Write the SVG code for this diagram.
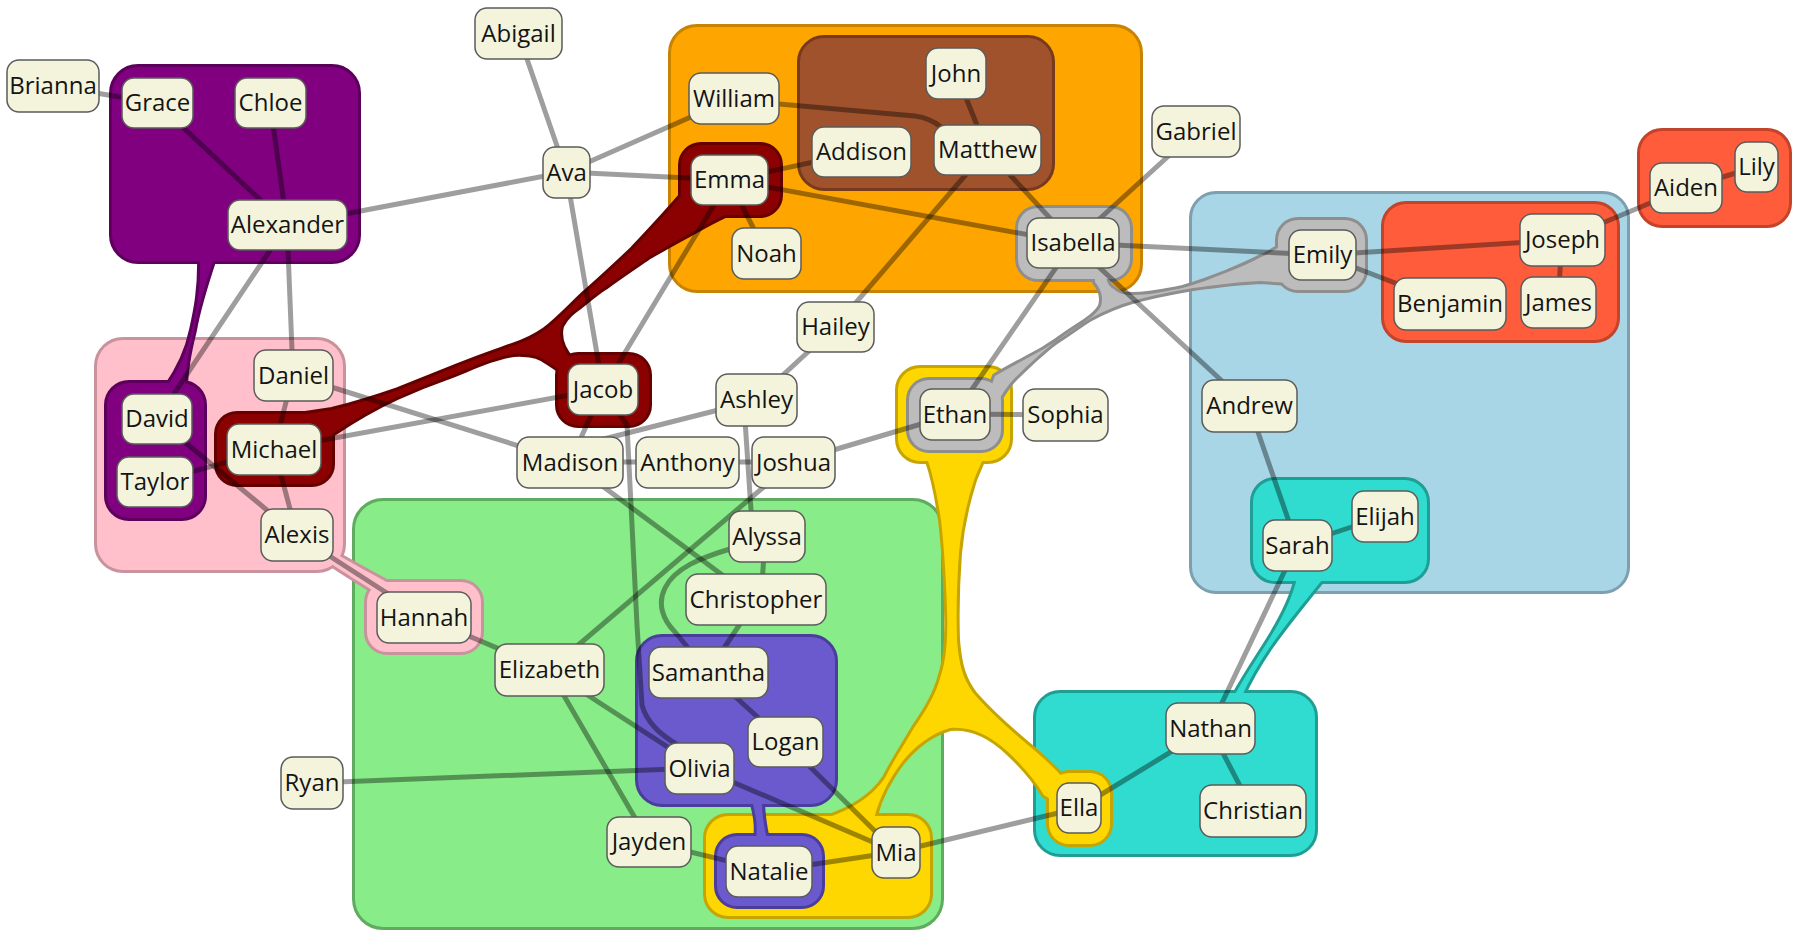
<svg xmlns="http://www.w3.org/2000/svg" xmlns:xlink="http://www.w3.org/1999/xlink" width="1796" height="937" viewBox="0 0 1796 937">
<style>
.n rect{fill:#f4f4dc;stroke:#5b5b5b;stroke-width:1.5}
.n text{font-family:"Open Sans","Noto Sans","Liberation Sans",sans-serif;font-size:24px;fill:#141414;text-anchor:middle}
.e line,.e path{stroke:#000;stroke-opacity:0.38;stroke-width:5;fill:none;stroke-linecap:round;stroke-linejoin:round}
.sk{stroke-width:6;stroke-linejoin:round}
</style>
<defs>
<g id="sBlue"><rect x="1192" y="194" width="435" height="397" rx="24"/></g>
<g id="sGreen"><rect x="355" y="501" width="586" height="426" rx="28"/></g>
<g id="sOrange"><rect x="671" y="27" width="469" height="263" rx="26"/></g>
<g id="sPink">
<rect x="97" y="340" width="246" height="230" rx="26"/>
<rect x="367" y="582" width="114" height="70" rx="20"/>
<path d="M 330,550 L 338,555 C 355,565 372,574 392,585 L 375,592 C 360,582 346,574 330,563 Z"/>
</g>
<g id="sTomato">
<rect x="1384" y="204" width="233" height="136" rx="22"/>
<rect x="1640" y="131" width="149" height="94" rx="22"/>
</g>
<g id="sBrown"><rect x="800" y="38" width="252" height="150" rx="24"/></g>
<g id="sTeal">
<rect x="1253" y="480" width="174" height="101" rx="22"/>
<rect x="1036" y="693" width="279" height="161" rx="24"/>
<path d="M 1297,578 C 1292,600 1280,622 1268,641 C 1258,657 1245,676 1233,698 L 1241,698 C 1249,680 1259,663 1270,647 C 1284,627 1301,606 1322,580 Z"/>
</g>
<g id="sYellow">
<rect x="898" y="368" width="112" height="93" rx="22"/>
<rect x="706" y="816" width="224" height="100" rx="22"/>
<rect x="1049" y="773" width="61" height="71" rx="20"/>
<path d="M 935,455 L 928,461 C 933,475 938,500 941,520 C 944,545 946,580 947,610 C 948,640 946,660 941,675 C 936,695 925,712 914,728 C 904,745 893,762 885,778 C 870,800 845,812 826,818 L 826,830 L 872,830 C 874,815 880,795 893,775 C 905,755 925,735 950,728 C 970,726 990,735 1008,752 C 1022,765 1035,780 1044,795 L 1052,800 L 1065,780 C 1055,768 1042,757 1028,745 C 1010,730 990,712 975,695 C 963,680 959,665 957,640 C 956,610 957,580 959,553 C 961,530 966,505 974,480 C 977,472 980,466 982,461 Z"/>
</g>
<g id="sSlate">
<rect x="638" y="637" width="197" height="167" rx="24"/>
<rect x="717" y="836" width="105" height="70" rx="20"/>
<path d="M 752,800 C 756,815 758,826 756,840 L 767,840 C 764,826 762,815 762,800 Z"/>
</g>
<g id="sPurple">
<rect x="112" y="67" width="246" height="194" rx="26"/>
<rect x="107" y="383" width="97" height="135" rx="22"/>
<path d="M 200,255 C 201,290 196,312 192,330 C 188,350 180,368 166,388 L 185,388 C 185,368 189,350 194,330 C 197,312 205,285 215,255 Z"/>
</g>
<g id="sRed">
<rect x="681" y="145" width="99" height="70" rx="20"/>
<rect x="558" y="355" width="91" height="70" rx="20"/>
<rect x="217" y="414" width="115" height="70" rx="20"/>
<path d="M 683,194 C 665,215 648,233 632,250 C 615,266 600,280 585,293 C 570,307 558,320 545,330 C 535,337 525,342 512,346 C 490,354 470,361 458,366 C 438,374 418,382 398,390 C 375,398 352,405 332,410 L 292,416 L 300,440 L 332,434 C 347,424 375,407 397,397 C 415,389 430,383 447,377 C 465,370 478,364 490,360 C 505,355 515,353 523,354 C 533,354 540,356 548,362 L 560,370 L 572,360 C 563,350 558,338 561,326 C 566,316 573,311 580,306 C 590,298 597,292 605,287 C 620,276 635,266 648,257 C 665,247 678,240 689,234 C 700,228 712,221 725,215 L 760,200 Z"/>
</g>
<g id="sGray">
<rect x="1018" y="208" width="112" height="71" rx="20"/>
<rect x="1278" y="220" width="87" height="70" rx="20"/>
<rect x="909" y="380" width="92" height="70" rx="20"/>
<path d="M 1095,270 L 1095,282 C 1100,288 1104,296 1101,306 C 1097,314 1090,318 1083,323 C 1070,332 1057,341 1044,349 C 1030,357 1012,366 995,376 L 990,390 L 1000,398 C 1005,390 1010,382 1018,375 C 1028,365 1040,354 1051,345 C 1064,335 1078,326 1091,318 C 1104,311 1118,305 1132,301 C 1150,296 1170,292 1193,288 C 1215,285 1240,282 1260,281 L 1290,283 L 1290,248 L 1278,248 C 1272,251 1267,255 1261,257 C 1250,263 1240,267 1228,272 C 1210,279 1195,285 1178,289 C 1162,292 1148,295 1133,295 C 1124,295 1118,293 1115,290 C 1110,287 1107,284 1106,276 Z"/>
</g>
</defs>
<rect x="0" y="0" width="1796" height="937" fill="#ffffff"/>
<g id="groups">
<g id="grp-blue"><use xlink:href="#sBlue" class="sk" fill="#7d9fae" stroke="#7d9fae"/><use xlink:href="#sBlue" fill="#a8d6e6"/></g>
<g id="grp-green"><use xlink:href="#sGreen" class="sk" fill="#5fab5f" stroke="#5fab5f"/><use xlink:href="#sGreen" fill="#88ec88"/></g>
<g id="grp-orange"><use xlink:href="#sOrange" class="sk" fill="#c88300" stroke="#c88300"/><use xlink:href="#sOrange" fill="#ffa500"/></g>
<g id="grp-pink"><use xlink:href="#sPink" class="sk" fill="#c9939d" stroke="#c9939d"/><use xlink:href="#sPink" fill="#ffc0cb"/></g>
<g id="grp-tomato"><use xlink:href="#sTomato" class="sk" fill="#c4432b" stroke="#c4432b"/><use xlink:href="#sTomato" fill="#ff5c3c"/></g>
<g id="grp-brown"><use xlink:href="#sBrown" class="sk" fill="#783a1c" stroke="#783a1c"/><use xlink:href="#sBrown" fill="#a0522d"/></g>
<g id="grp-teal"><use xlink:href="#sTeal" class="sk" fill="#1f9e94" stroke="#1f9e94"/><use xlink:href="#sTeal" fill="#30dccf"/></g>
<g id="grp-yellow"><use xlink:href="#sYellow" class="sk" fill="#c6a500" stroke="#c6a500"/><use xlink:href="#sYellow" fill="#ffd700"/></g>
<g id="grp-slate"><use xlink:href="#sSlate" class="sk" fill="#4a3d9e" stroke="#4a3d9e"/><use xlink:href="#sSlate" fill="#6a5acd"/></g>
<g id="grp-purple"><use xlink:href="#sPurple" class="sk" fill="#5c005c" stroke="#5c005c"/><use xlink:href="#sPurple" fill="#800080"/></g>
<g id="grp-red"><use xlink:href="#sRed" class="sk" fill="#640000" stroke="#640000"/><use xlink:href="#sRed" fill="#8b0000"/></g>
<g id="grp-gray"><use xlink:href="#sGray" class="sk" fill="#8e8e8e" stroke="#8e8e8e"/><use xlink:href="#sGray" fill="#bcbcbc"/></g>
</g>
<g id="connectors" class="e">
<line x1="53" y1="86" x2="157" y2="103"/>
<line x1="157" y1="103" x2="287" y2="225"/>
<line x1="270" y1="103" x2="287" y2="225"/>
<line x1="287" y1="225" x2="566" y2="172"/>
<line x1="287" y1="225" x2="157" y2="419"/>
<line x1="287" y1="225" x2="293" y2="375"/>
<line x1="518" y1="33" x2="566" y2="172"/>
<line x1="566" y1="172" x2="734" y2="98"/>
<line x1="566" y1="172" x2="729" y2="180"/>
<line x1="566" y1="172" x2="603" y2="389"/>
<line x1="729" y1="180" x2="861" y2="152"/>
<line x1="729" y1="180" x2="766" y2="253"/>
<line x1="729" y1="180" x2="1073" y2="243"/>
<line x1="729" y1="180" x2="603" y2="389"/>
<path d="M 734,98 L 779,104 L 915,116 Q 930,118 941,127 L 987,150"/>
<line x1="956" y1="73" x2="987" y2="150"/>
<line x1="987" y1="150" x2="1073" y2="243"/>
<line x1="987" y1="150" x2="835" y2="327"/>
<line x1="1196" y1="131" x2="1073" y2="243"/>
<line x1="1073" y1="243" x2="1322" y2="255"/>
<line x1="1073" y1="243" x2="955" y2="414"/>
<line x1="1073" y1="243" x2="1249" y2="406"/>
<line x1="1322" y1="255" x2="1562" y2="240"/>
<line x1="1322" y1="255" x2="1450" y2="304"/>
<line x1="1562" y1="240" x2="1558" y2="302"/>
<line x1="1562" y1="240" x2="1686" y2="188"/>
<line x1="1686" y1="188" x2="1756" y2="167"/>
<line x1="1249" y1="406" x2="1297" y2="545"/>
<line x1="1297" y1="545" x2="1385" y2="516"/>
<line x1="1297" y1="545" x2="1210" y2="728"/>
<line x1="1210" y1="728" x2="1079" y2="808"/>
<line x1="1210" y1="728" x2="1253" y2="811"/>
<line x1="1079" y1="808" x2="896" y2="852"/>
<line x1="896" y1="852" x2="769" y2="871"/>
<line x1="896" y1="852" x2="700" y2="768"/>
<line x1="896" y1="852" x2="785" y2="742"/>
<line x1="708" y1="672" x2="785" y2="742"/>
<line x1="769" y1="871" x2="649" y2="842"/>
<line x1="700" y1="768" x2="312" y2="783"/>
<line x1="756" y1="600" x2="708" y2="672"/>
<path d="M 767,537 L 730,549 C 700,558 675,568 665,588 C 657,604 663,620 675,632 L 708,672"/>
<line x1="744" y1="405" x2="752" y2="525"/>
<line x1="765" y1="540" x2="761" y2="598"/>
<line x1="835" y1="327" x2="756" y2="400"/>
<line x1="750" y1="402" x2="592" y2="442"/>
<line x1="793" y1="462" x2="955" y2="414"/>
<line x1="955" y1="414" x2="1065" y2="415"/>
<line x1="570" y1="462" x2="687" y2="462"/>
<line x1="687" y1="462" x2="793" y2="462"/>
<line x1="570" y1="462" x2="756" y2="600"/>
<line x1="549" y1="670" x2="793" y2="462"/>
<line x1="549" y1="670" x2="700" y2="768"/>
<line x1="549" y1="670" x2="649" y2="842"/>
<line x1="424" y1="617" x2="549" y2="670"/>
<line x1="297" y1="535" x2="424" y2="617"/>
<line x1="293" y1="375" x2="274" y2="449"/>
<line x1="293" y1="375" x2="570" y2="462"/>
<line x1="274" y1="449" x2="297" y2="535"/>
<line x1="157" y1="419" x2="297" y2="535"/>
<line x1="155" y1="482" x2="274" y2="449"/>
<line x1="274" y1="449" x2="603" y2="389"/>
<line x1="603" y1="389" x2="570" y2="462"/>
<path d="M 603,390 L 627,425 L 637,625 L 642,705 Q 648,728 678,745 L 700,768"/>
</g>
<g id="nodes">
<g id="Brianna" class="n"><rect x="7" y="60" width="92" height="52" rx="12"/><text x="53" y="94">Brianna</text></g>
<g id="Grace" class="n"><rect x="122" y="78" width="71" height="50" rx="12"/><text x="157.5" y="111">Grace</text></g>
<g id="Chloe" class="n"><rect x="235" y="78" width="71" height="50" rx="12"/><text x="270.5" y="111">Chloe</text></g>
<g id="Alexander" class="n"><rect x="228" y="200" width="119" height="50" rx="12"/><text x="287.5" y="233">Alexander</text></g>
<g id="Abigail" class="n"><rect x="475" y="8" width="87" height="51" rx="12"/><text x="518.5" y="42">Abigail</text></g>
<g id="Ava" class="n"><rect x="543" y="147" width="47" height="51" rx="12"/><text x="566.5" y="181">Ava</text></g>
<g id="William" class="n"><rect x="689" y="73" width="90" height="51" rx="12"/><text x="734" y="107">William</text></g>
<g id="John" class="n"><rect x="926" y="48" width="60" height="51" rx="12"/><text x="956" y="82">John</text></g>
<g id="Addison" class="n"><rect x="812" y="127" width="99" height="50" rx="12"/><text x="861.5" y="160">Addison</text></g>
<g id="Matthew" class="n"><rect x="934" y="125" width="107" height="50" rx="12"/><text x="987.5" y="158">Matthew</text></g>
<g id="Emma" class="n"><rect x="691" y="155" width="77" height="50" rx="12"/><text x="729.5" y="188">Emma</text></g>
<g id="Noah" class="n"><rect x="732" y="228" width="69" height="51" rx="12"/><text x="766.5" y="262">Noah</text></g>
<g id="Isabella" class="n"><rect x="1027" y="218" width="92" height="50" rx="12"/><text x="1073" y="251">Isabella</text></g>
<g id="Gabriel" class="n"><rect x="1152" y="106" width="88" height="51" rx="12"/><text x="1196" y="140">Gabriel</text></g>
<g id="Emily" class="n"><rect x="1289" y="230" width="67" height="50" rx="12"/><text x="1322.5" y="263">Emily</text></g>
<g id="Joseph" class="n"><rect x="1520" y="214" width="85" height="52" rx="12"/><text x="1562.5" y="248">Joseph</text></g>
<g id="Benjamin" class="n"><rect x="1394" y="278" width="112" height="52" rx="12"/><text x="1450" y="312">Benjamin</text></g>
<g id="James" class="n"><rect x="1521" y="277" width="75" height="51" rx="12"/><text x="1558.5" y="311">James</text></g>
<g id="Aiden" class="n"><rect x="1650" y="163" width="72" height="50" rx="12"/><text x="1686" y="196">Aiden</text></g>
<g id="Lily" class="n"><rect x="1735" y="142" width="43" height="50" rx="12"/><text x="1756.5" y="175">Lily</text></g>
<g id="Hailey" class="n"><rect x="797" y="302" width="77" height="50" rx="12"/><text x="835.5" y="335">Hailey</text></g>
<g id="Jacob" class="n"><rect x="568" y="364" width="70" height="51" rx="12"/><text x="603" y="398">Jacob</text></g>
<g id="Daniel" class="n"><rect x="254" y="350" width="79" height="51" rx="12"/><text x="293.5" y="384">Daniel</text></g>
<g id="David" class="n"><rect x="122" y="394" width="70" height="50" rx="12"/><text x="157" y="427">David</text></g>
<g id="Taylor" class="n"><rect x="117" y="457" width="76" height="50" rx="12"/><text x="155" y="490">Taylor</text></g>
<g id="Michael" class="n"><rect x="227" y="424" width="94" height="51" rx="12"/><text x="274" y="458">Michael</text></g>
<g id="Alexis" class="n"><rect x="261" y="509" width="72" height="52" rx="12"/><text x="297" y="543">Alexis</text></g>
<g id="Madison" class="n"><rect x="517" y="437" width="106" height="51" rx="12"/><text x="570" y="471">Madison</text></g>
<g id="Anthony" class="n"><rect x="636" y="437" width="103" height="51" rx="12"/><text x="687.5" y="471">Anthony</text></g>
<g id="Joshua" class="n"><rect x="752" y="437" width="83" height="51" rx="12"/><text x="793.5" y="471">Joshua</text></g>
<g id="Ashley" class="n"><rect x="716" y="374" width="81" height="52" rx="12"/><text x="756.5" y="408">Ashley</text></g>
<g id="Ethan" class="n"><rect x="920" y="389" width="70" height="51" rx="12"/><text x="955" y="423">Ethan</text></g>
<g id="Sophia" class="n"><rect x="1023" y="389" width="85" height="52" rx="12"/><text x="1065.5" y="423">Sophia</text></g>
<g id="Andrew" class="n"><rect x="1202" y="380" width="95" height="52" rx="12"/><text x="1249.5" y="414">Andrew</text></g>
<g id="Sarah" class="n"><rect x="1263" y="520" width="69" height="51" rx="12"/><text x="1297.5" y="554">Sarah</text></g>
<g id="Elijah" class="n"><rect x="1352" y="491" width="66" height="51" rx="12"/><text x="1385" y="525">Elijah</text></g>
<g id="Alyssa" class="n"><rect x="729" y="511" width="76" height="51" rx="12"/><text x="767" y="545">Alyssa</text></g>
<g id="Christopher" class="n"><rect x="686" y="574" width="140" height="51" rx="12"/><text x="756" y="608">Christopher</text></g>
<g id="Hannah" class="n"><rect x="377" y="592" width="94" height="51" rx="12"/><text x="424" y="626">Hannah</text></g>
<g id="Elizabeth" class="n"><rect x="495" y="644" width="109" height="52" rx="12"/><text x="549.5" y="678">Elizabeth</text></g>
<g id="Samantha" class="n"><rect x="649" y="647" width="119" height="51" rx="12"/><text x="708.5" y="681">Samantha</text></g>
<g id="Logan" class="n"><rect x="748" y="717" width="75" height="50" rx="12"/><text x="785.5" y="750">Logan</text></g>
<g id="Olivia" class="n"><rect x="665" y="743" width="69" height="51" rx="12"/><text x="699.5" y="777">Olivia</text></g>
<g id="Ryan" class="n"><rect x="281" y="757" width="62" height="52" rx="12"/><text x="312" y="791">Ryan</text></g>
<g id="Jayden" class="n"><rect x="607" y="817" width="84" height="50" rx="12"/><text x="649" y="850">Jayden</text></g>
<g id="Natalie" class="n"><rect x="726" y="846" width="86" height="51" rx="12"/><text x="769" y="880">Natalie</text></g>
<g id="Mia" class="n"><rect x="872" y="827" width="48" height="51" rx="12"/><text x="896" y="861">Mia</text></g>
<g id="Ella" class="n"><rect x="1057" y="783" width="44" height="50" rx="12"/><text x="1079" y="816">Ella</text></g>
<g id="Nathan" class="n"><rect x="1166" y="703" width="89" height="51" rx="12"/><text x="1210.5" y="737">Nathan</text></g>
<g id="Christian" class="n"><rect x="1200" y="785" width="106" height="52" rx="12"/><text x="1253" y="819">Christian</text></g>
</g>
</svg>
